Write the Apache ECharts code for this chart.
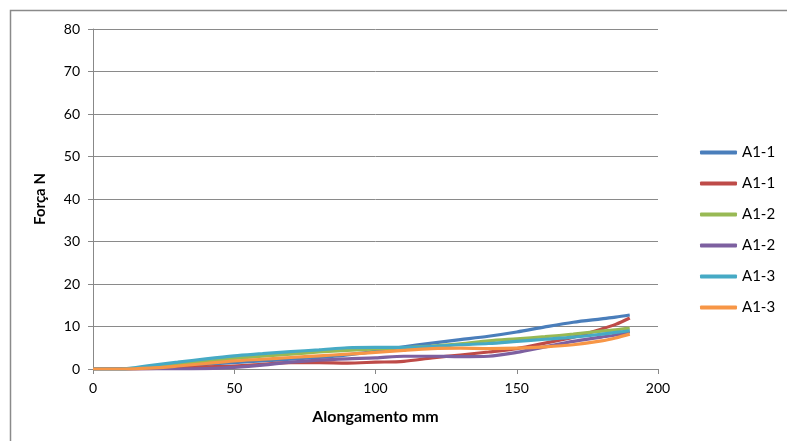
<!DOCTYPE html>
<html>
<head>
<meta charset="utf-8">
<script src="https://cdn.jsdelivr.net/npm/echarts@6/dist/echarts.min.js"></script>
<style>
html,body{margin:0;padding:0;background:#fff;}
#chart{width:787px;height:441px;}
</style>
</head>
<body>
<div id="chart"></div>
<script>
var xValues = [0,10,20,30,40,50,60,70,80,90,100,110,120,130,140,150,160,170,180,185,190];
var seriesNames = ['A1-1','A1-1','A1-2','A1-2','A1-3','A1-3'];
var seriesColors = ['#4A7EBB','#BE4B48','#98B954','#7D60A0','#46AAC5','#F79646'];
var blueA11  = [0,0,0.3,0.7,1.1,1.5,1.9,2.3,2.7,3.3,4.2,5.2,6.1,6.9,7.7,8.7,9.9,11.0,11.8,12.2,12.7];
var redA11   = [0,0,0.1,0.3,0.5,0.7,1.1,1.5,1.5,1.4,1.6,1.8,2.6,3.3,4.0,4.8,6.1,7.5,9.4,10.5,12.0];
var greenA12 = [0,0,0.5,1.2,1.8,2.5,3.0,3.5,4.0,4.4,4.7,5.0,5.4,5.9,6.6,7.1,7.6,8.2,8.9,9.2,9.6];
var purpA12  = [0,0,0,0,0.1,0.4,0.9,1.6,2.1,2.4,2.6,3.0,3.0,2.9,3.0,3.9,5.2,6.5,7.5,8.0,8.8];
var cyanA13  = [0,0,0.8,1.6,2.4,3.1,3.6,4.1,4.5,5.0,5.1,5.1,5.3,5.7,6.0,6.5,7.0,7.5,8.2,8.6,9.0];
var orngA13  = [0,0,0.2,0.7,1.3,1.9,2.3,2.7,3.1,3.5,3.9,4.4,4.8,4.9,4.8,4.9,5.2,5.7,6.6,7.3,8.2];
var seriesValues = [blueA11, redA11, greenA12, purpA12, cyanA13, orngA13];
var xTicks = [0,50,100,150,200];
var yTicks = [0,10,20,30,40,50,60,70,80];

var FONT = 'Lato, "Open Sans", sans-serif';
// ECharts merges legend entries with equal names; keep a unique internal id per series
var uniqueNames = seriesNames.map(function(n, i){ return n + '\u200B'.repeat(i); });
var chart = echarts.init(document.getElementById('chart'), null, {renderer:'canvas'});
var series = seriesValues.map(function(vals, i){
  return {
    name: uniqueNames[i],
    type: 'line',
    showSymbol: false,
    symbol: 'none',
    smooth: 0.3,
    data: vals.map(function(v, j){ return [xValues[j], v]; }),
    lineStyle: {color: seriesColors[i], width: 3.2},
    itemStyle: {color: seriesColors[i]},
    animation: false
  };
});
chart.setOption({
  animation: false,
  backgroundColor: '#fff',
  graphic: [{
    type: 'rect', shape: {x: 10.5, y: 10.5, width: 800, height: 460},
    style: {fill: 'none', stroke: '#8a8a8a', lineWidth: 1.5}, silent: true
  }],
  grid: {left: 93, right: 129, top: 29, bottom: 72, containLabel: false},
  legend: {
    orient: 'vertical', left: 695, top: 140,
    icon: 'roundRect', itemWidth: 37, itemHeight: 4, itemGap: 16,
    data: series.map(function(s, i){ return {name: s.name, itemStyle:{color: seriesColors[i]}}; }),
    formatter: function(name){ return name.replace(/\u200B/g, ''); },
    textStyle: {fontFamily: FONT, fontSize: 15, color: '#000'},
    selectedMode: false
  },
  xAxis: {
    type: 'value', min: xTicks[0], max: xTicks[xTicks.length-1], interval: 50,
    name: 'Alongamento mm', nameLocation: 'middle', nameGap: 40,
    nameTextStyle: {fontFamily: FONT, fontSize: 16, fontWeight: 'bold', color: '#000'},
    axisLine: {show: true, lineStyle: {color: '#888', width: 1}},
    axisTick: {show: true, length: 5, lineStyle: {color: '#888'}},
    axisLabel: {fontFamily: FONT, fontSize: 14, color: '#000', margin: 12},
    splitLine: {show: false}
  },
  yAxis: {
    type: 'value', min: yTicks[0], max: yTicks[yTicks.length-1], interval: 10,
    name: 'Força N', nameLocation: 'middle', nameGap: 45, nameRotate: 90,
    nameTextStyle: {fontFamily: FONT, fontSize: 15, fontWeight: 'bold', color: '#000'},
    axisLine: {show: true, lineStyle: {color: '#888', width: 1}},
    axisTick: {show: true, length: 5, lineStyle: {color: '#888'}},
    axisLabel: {fontFamily: FONT, fontSize: 14, color: '#000', margin: 13},
    splitLine: {show: true, lineStyle: {color: '#8a8a8a', width: 1}}
  },
  series: series
});
</script>
</body>
</html>
